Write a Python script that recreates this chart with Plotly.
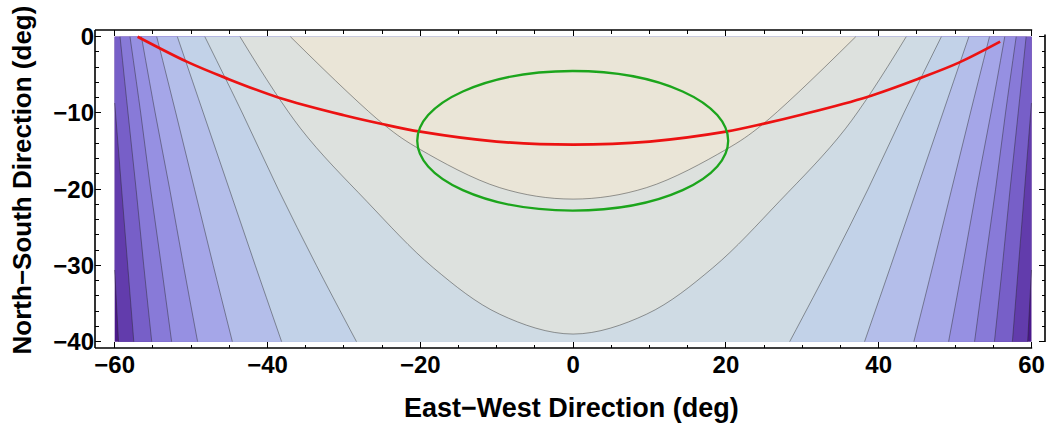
import plotly.graph_objects as go

# ---------------- data ----------------
# plot data window
x_edges = [-60.0, 60.0]
y_edges = [-40.0, 0.0]

# contour lines, left branch (field is mirror-symmetric about x = 0)
c0_x = [-60.0, -59.75, -59.5]
c0_y = [-30.6, -35.3, -40.0]
c1_x = [-60.0, -59.1, -58.3, -57.5]
c1_y = [-8.7, -20.0, -30.0, -40.0]
side_y = [0.0, -10.0, -20.0, -30.0, -40.0]
c2_x = [-59.3, -58.26, -57.2, -56.2, -55.15]
c3_x = [-58.0, -56.6, -55.3, -53.9, -52.55]
c4_x = [-56.5, -54.7, -52.8, -51.0, -49.15]
c5_x = [-54.5, -52.0, -49.55, -47.1, -44.6]
c6_x = [-51.8, -48.4, -45.0, -41.6, -38.15]
c7_x = [-48.2, -43.3, -38.6, -33.6, -28.35]
c8_x = [-43.6, -35.7, -27.0, -18.3, -9.6, 0.0]
c8_y = [0.0, -12.0, -21.6, -30.3, -36.4, -39.0]
c9_x = [-37.0, -24.8, -20.0, -9.6, 0.0]
c9_y = [0.0, -11.5, -14.8, -19.8, -21.3]

# band colours, from the lowest band (edges) to the highest (top centre)
band_colors = [
    "rgb(74,24,138)", "rgb(98,60,172)", "rgb(119,95,200)", "rgb(136,122,216)",
    "rgb(150,144,226)", "rgb(165,166,232)", "rgb(180,190,234)", "rgb(194,210,232)",
    "rgb(207,219,228)", "rgb(221,225,222)", "rgb(234,229,215)",
]

# red path
red_x = [-57.0, -50.5, -45.5, -38.5, -30.0, -25.0, -20.0, -10.0, 0.0, 10.0, 20.0, 25.0, 30.0, 38.5, 45.5, 50.5, 55.9]
red_y = [0.0, -3.3, -5.4, -8.0, -10.3, -11.45, -12.45, -13.75, -14.15, -13.75, -12.45, -11.4, -10.2, -7.9, -5.4, -3.4, -0.65]

# green ellipse bounds
ell_x = [-20.4, 20.3]
ell_y = [-22.8, -4.5]

x_tick_vals = [-60, -40, -20, 0, 20, 40, 60]
y_tick_vals = [0, -10, -20, -30, -40]

# ---------------- build figure ----------------
side_levels = [
    (c0_x, c0_y, "linear"), (c1_x, c1_y, "linear"),
    (c2_x, side_y, "spline"), (c3_x, side_y, "spline"), (c4_x, side_y, "spline"),
    (c5_x, side_y, "spline"), (c6_x, side_y, "spline"), (c7_x, side_y, "spline"),
]
closed_levels = [(c8_x, c8_y), (c9_x, c9_y)]

fig = go.Figure()
# lowest band: the whole data window
fig.add_shape(type="rect", xref="x", yref="y", layer="below",
              x0=x_edges[0], x1=x_edges[1], y0=y_edges[0], y1=y_edges[1],
              fillcolor=band_colors[0], line=dict(width=0))

line_col = "rgba(40,40,40,0.45)"
contour_lines = []
for k, (lx, ly, shp) in enumerate(side_levels):
    fx, fy = list(lx), list(ly)
    if fy[0] < y_edges[1]:          # line starts on the left edge: include the top-left corner
        fx = [x_edges[0]] + fx
        fy = [y_edges[1]] + fy
    fig.add_trace(go.Scatter(x=fx, y=fy, mode="lines", line=dict(width=0, shape=shp),
                             hoverinfo="skip", showlegend=False))
    fig.add_trace(go.Scatter(x=[-v for v in fx], y=fy, mode="lines", line=dict(width=0, shape=shp),
                             fill="tonextx", fillcolor=band_colors[k + 1],
                             hoverinfo="skip", showlegend=False))
    contour_lines.append((list(lx), list(ly), shp))
    contour_lines.append(([-v for v in lx], list(ly), shp))

for j, (lx, ly) in enumerate(closed_levels):
    k = len(side_levels) + j
    fx = list(lx) + [-v for v in lx[-2::-1]]
    fy = list(ly) + list(ly[-2::-1])
    fig.add_trace(go.Scatter(x=fx, y=fy, mode="lines", line=dict(width=0, shape="spline"),
                             fill="toself", fillcolor=band_colors[k + 1],
                             hoverinfo="skip", showlegend=False))
    contour_lines.append((fx, fy, "spline"))

for lx, ly, shp in contour_lines:
    fig.add_trace(go.Scatter(x=lx, y=ly, mode="lines", line=dict(color=line_col, width=1, shape=shp),
                             hoverinfo="skip", showlegend=False))

fig.add_trace(go.Scatter(
    x=red_x, y=red_y, mode="lines",
    line=dict(color="rgb(236,18,18)", width=2.7, shape="spline", smoothing=1.0),
    hoverinfo="skip", showlegend=False,
))
fig.add_shape(type="circle", xref="x", yref="y",
              x0=ell_x[0], x1=ell_x[1], y0=ell_y[0], y1=ell_y[1],
              line=dict(color="rgb(28,165,28)", width=2.3))

frame = dict(color="black", width=1.6)
fig.add_shape(type="line", xref="paper", yref="paper", x0=0, x1=0, y0=0, y1=1, line=frame)
fig.add_shape(type="line", xref="paper", yref="paper", x0=0, x1=0.9865, y0=1, y1=1, line=frame)
fig.add_shape(type="line", xref="paper", yref="paper", x0=0, x1=0.9865, y0=0, y1=0, line=frame)
fig.add_shape(type="line", xref="paper", yref="y", x0=1, x1=1, y0=-40.05, y1=0.3, line=frame)

tick_font = dict(family="Liberation Sans, Arial", size=24, color="black", weight="bold")
fig.add_annotation(text="East\u2212West Direction (deg)", xref="paper", yref="paper",
                   x=0.502, y=-0.189, xanchor="center", yanchor="middle", showarrow=False,
                   font=dict(family="Liberation Sans, Arial", size=27, color="black", weight="bold"))
fig.add_annotation(text="North\u2212South Direction (deg)", xref="paper", yref="paper",
                   x=-0.0765, y=0.528, xanchor="center", yanchor="middle", showarrow=False,
                   textangle=-90,
                   font=dict(family="Liberation Sans, Arial", size=26, color="black", weight="bold"))

fig.update_layout(
    width=1049, height=425,
    margin=dict(l=95, r=4, t=30, b=77, autoexpand=False),
    paper_bgcolor="white", plot_bgcolor="white",
    showlegend=False,
    xaxis=dict(
        range=[-62.58, 61.77], showgrid=False, zeroline=False, showline=False,
        tickmode="array", tickvals=x_tick_vals, automargin=False,
        ticks="inside", ticklen=6, tickwidth=1.4, tickcolor="black", mirror="ticks",
        minor=dict(dtick=5, tick0=0, ticks="inside", ticklen=3.5, tickwidth=1, tickcolor="black", showgrid=False),
        tickfont=tick_font,
    ),
    yaxis=dict(
        range=[-40.83, 0.88], showgrid=False, zeroline=False, showline=False,
        tickmode="array", tickvals=y_tick_vals, automargin=False,
        ticks="inside", ticklen=6, tickwidth=1.4, tickcolor="black", mirror="ticks",
        minor=dict(dtick=2, tick0=0, ticks="inside", ticklen=3.5, tickwidth=1, tickcolor="black", showgrid=False),
        tickfont=tick_font,
    ),
)

fig.write_html("out.html", config={"displayModeBar": False},
               post_script="document.body.style.margin='0';document.body.style.padding='0';")
